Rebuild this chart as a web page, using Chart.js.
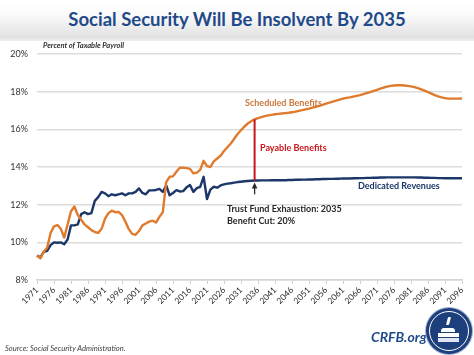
<!DOCTYPE html>
<html><head><meta charset="utf-8">
<script src="https://cdn.jsdelivr.net/npm/chart.js@4.4.1/dist/chart.umd.min.js"></script>
<style>
html,body{margin:0;padding:0;width:474px;height:355px;overflow:hidden;background:#fff;font-family:Lato,"Open Sans",sans-serif;}
#hdr{position:absolute;left:0;top:0;width:474px;height:41px;background:linear-gradient(#ffffff 0px,#fbfbfb 14px,#e2e2e2 37px,#eeeeee 41px);}
#title{position:absolute;left:0;width:474px;top:8px;text-align:center;font-weight:bold;font-size:18.5px;color:#1f4a8a;letter-spacing:0px;}
#sub{position:absolute;left:43px;top:41px;font-size:7.5px;font-weight:bold;font-style:italic;color:#333;}
#src{position:absolute;left:5px;top:343px;font-size:7.6px;font-style:italic;color:#404040;}
#crfb{position:absolute;left:371px;top:328px;font-size:14px;font-weight:bold;font-style:italic;color:#1f4a8a;}
#logo{position:absolute;left:426px;top:308px;width:46px;height:46px;border-radius:50%;background:#1d3f7c;box-shadow:0 0 0 1px #9fb0cf;}
#ring{position:absolute;left:3px;top:3px;width:38px;height:38px;border-radius:50%;border:1.5px solid #fff;}
#dome{position:absolute;left:21px;top:9px;width:3px;height:8px;background:#fff;border-radius:1px;transform:skewX(-15deg);}
#b1{position:absolute;left:15px;top:20px;width:14px;height:4px;background:#fff;border-radius:3px 3px 0 0;}
#b2{position:absolute;left:12px;top:25px;width:21px;height:4px;background:#fff;}
#b3{position:absolute;left:12px;top:30px;width:21px;height:4px;background:#dfe6f2;}
canvas{position:absolute;left:0;top:0;}
</style></head>
<body>
<div id="hdr"></div>
<div id="title">Social Security Will Be Insolvent By 2035</div>
<canvas id="c" width="474" height="355"></canvas>
<div id="sub">Percent of Taxable Payroll</div>
<div id="src">Source: Social Security Administration.</div>
<div id="crfb">CRFB.org</div>
<div id="logo"><div id="ring"></div><div id="dome"></div><div id="b1"></div><div id="b2"></div><div id="b3"></div></div>
<script>
const firstYear = 1971;
const lastYear = 2096;
const exhaustionYear = 2035;
const yTicks = [8, 10, 12, 14, 16, 18, 20];

// Scheduled benefits (cost), 1971-2035
const benefitsHist = [
 9.3, 9.15, 9.5, 9.72, 10.5, 10.85, 10.92, 10.72, 10.25, 10.95,
 11.65, 11.9, 11.45, 11.2, 10.95, 10.8, 10.65, 10.55, 10.5, 10.72,
 11.25, 11.55, 11.68, 11.6, 11.62, 11.45, 11.1, 10.7, 10.45, 10.4,
 10.6, 10.9, 11.0, 11.1, 11.15, 11.05, 11.35, 11.6, 13.2, 13.48,
 13.5, 13.75, 13.96, 13.96, 13.94, 13.9, 13.66, 13.7, 13.85, 14.33,
 14.05, 14.0, 14.3, 14.45, 14.6, 14.85, 15.05, 15.25, 15.5, 15.75,
 15.95, 16.15, 16.31, 16.43, 16.53
];
// Scheduled benefits (cost), 2036-2096
const benefitsProj = [
 16.6, 16.65, 16.7, 16.74, 16.77, 16.8, 16.82, 16.84, 16.86, 16.88,
 16.91, 16.94, 16.98, 17.02, 17.06, 17.1, 17.15, 17.2, 17.25, 17.3,
 17.36, 17.42, 17.47, 17.52, 17.58, 17.63, 17.67, 17.7, 17.74, 17.78,
 17.82, 17.87, 17.93, 17.98, 18.04, 18.1, 18.16, 18.22, 18.27, 18.31,
 18.33, 18.34, 18.34, 18.33, 18.31, 18.28, 18.24, 18.19, 18.12, 18.05,
 17.98, 17.9, 17.82, 17.75, 17.7, 17.66, 17.64, 17.63, 17.63, 17.63, 17.64
];
// Dedicated revenues (income), 1971-2035
const revenueHist = [
 9.3, 9.2, 9.5, 9.55, 9.85, 10.0, 9.98, 10.0, 9.9, 10.15,
 10.9, 10.9, 10.95, 11.5, 11.6, 11.5, 11.55, 12.2, 12.4, 12.68,
 12.6, 12.45, 12.55, 12.5, 12.55, 12.6, 12.5, 12.6, 12.6, 12.68,
 12.86, 12.62, 12.55, 12.76, 12.76, 12.78, 12.84, 12.68, 13.02, 12.5,
 12.62, 12.77, 12.7, 12.72, 12.92, 13.04, 12.68, 12.88, 12.95, 13.48,
 12.3, 12.8, 12.95, 12.9, 13.02, 13.08, 13.12, 13.14, 13.17, 13.2,
 13.22, 13.24, 13.26, 13.27, 13.28
];
// Dedicated revenues (income), 2036-2096
const revenueProj = [
 13.28, 13.29, 13.29, 13.29, 13.3, 13.3, 13.3, 13.3, 13.3, 13.31,
 13.31, 13.32, 13.32, 13.33, 13.33, 13.34, 13.34, 13.35, 13.35, 13.36,
 13.36, 13.37, 13.37, 13.38, 13.38, 13.39, 13.39, 13.39, 13.4, 13.4,
 13.41, 13.41, 13.42, 13.42, 13.43, 13.43, 13.44, 13.44, 13.45, 13.45,
 13.45, 13.45, 13.45, 13.45, 13.45, 13.45, 13.45, 13.44, 13.44, 13.43,
 13.43, 13.42, 13.42, 13.41, 13.41, 13.4, 13.4, 13.4, 13.4, 13.4, 13.4
];
const arrowBaseValue = 12.55;

const years = [];
for (let yr = firstYear; yr <= lastYear; yr++) years.push(String(yr));
const benefits = benefitsHist.concat(benefitsProj);
const revenue = revenueHist.concat(revenueProj);

const NAVY = '#1a3768', ORANGE = '#e07a2c', RED = '#c4161c';

const annot = {
  id: 'annot',
  afterDatasetsDraw(chart) {
    const {ctx, scales: {x, y}} = chart;
    const i = years.indexOf(String(exhaustionYear));
    const px = x.getPixelForValue(i);
    const yB = y.getPixelForValue(benefits[i]);
    const yR = y.getPixelForValue(revenue[i]);
    ctx.save();
    ctx.strokeStyle = RED; ctx.lineWidth = 2;
    ctx.beginPath(); ctx.moveTo(px, yB); ctx.lineTo(px, yR); ctx.stroke();
    const yA = y.getPixelForValue(arrowBaseValue);
    ctx.strokeStyle = '#2a2a2a'; ctx.fillStyle = '#2a2a2a'; ctx.lineWidth = 1.3;
    ctx.beginPath(); ctx.moveTo(px, yA); ctx.lineTo(px, yR + 6); ctx.stroke();
    ctx.beginPath(); ctx.moveTo(px, yR + 2); ctx.lineTo(px - 2.8, yR + 8); ctx.lineTo(px + 2.8, yR + 8); ctx.closePath(); ctx.fill();
    ctx.textBaseline = 'middle'; ctx.textAlign = 'left';
    ctx.font = 'bold 9px Lato';
    ctx.fillStyle = '#c9773a'; ctx.fillText('Scheduled Benefits', 245, 103.5);
    ctx.fillStyle = RED; ctx.fillText('Payable Benefits', 260, 148.5);
    ctx.fillStyle = NAVY; ctx.fillText('Dedicated Revenues', 358, 186);
    ctx.fillStyle = '#262626';
    ctx.fillText('Trust Fund Exhaustion: 2035', 227, 209.5);
    ctx.fillText('Benefit Cut: 20%', 227, 221.5);
    ctx.restore();
  }
};

new Chart(document.getElementById('c'), {
  type: 'line',
  data: {
    labels: years,
    datasets: [
      {label: 'Scheduled Benefits', data: benefits, borderColor: ORANGE, borderWidth: 2.4, pointRadius: 0, tension: 0, borderJoinStyle: 'round'},
      {label: 'Dedicated Revenues', data: revenue, borderColor: NAVY, borderWidth: 2.4, pointRadius: 0, tension: 0, borderJoinStyle: 'round'}
    ]
  },
  options: {
    responsive: false,
    animation: false,
    events: [],
    layout: {padding: {top: 54, right: 12, left: 0, bottom: 0}},
    plugins: {legend: {display: false}, tooltip: {enabled: false}, title: {display: false}},
    scales: {
      x: {
        type: 'category',
        offset: false,
        afterFit: s => { s.height = 75; },
        grid: {drawOnChartArea: false, drawTicks: true, tickLength: 4, lineWidth: 1,
               color: c => (c.index % 5 === 0 ? '#cfcfcf' : 'rgba(0,0,0,0)')},
        border: {display: true, color: '#d4d4d4', width: 1.5},
        ticks: {autoSkip: false, maxRotation: 45, minRotation: 45, padding: 1,
                font: {family: 'Lato', size: 8.5}, color: '#2a2a2a',
                callback: (v, i) => (i % 5 === 0 ? years[i] : '')}
      },
      y: {
        min: yTicks[0], max: yTicks[yTicks.length - 1],
        afterFit: s => { s.width = 37; },
        afterBuildTicks: s => { s.ticks = yTicks.map(v => ({value: v})); },
        grid: {color: '#dcdcdc', lineWidth: 1.5, drawTicks: false},
        border: {display: false},
        ticks: {padding: 9, font: {family: 'Lato', size: 9}, color: '#333', callback: v => v + '%'}
      }
    }
  },
  plugins: [annot]
});
</script>
</body></html>
